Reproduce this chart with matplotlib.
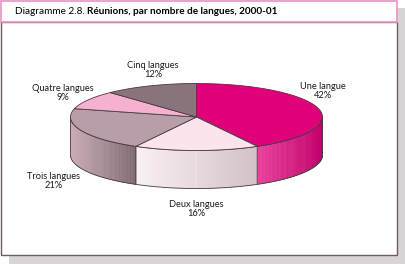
import numpy as np
import matplotlib.pyplot as plt
from matplotlib.patches import Polygon, Rectangle
from matplotlib.colors import to_rgb

# Data
categories = ['Une langue', 'Deux langues', 'Trois langues', 'Quatre langues', 'Cinq langues']
shares = [42, 16, 21, 9, 12]

# Style
top_colors = ['#e0007a', '#fce4ec', '#b89ea8', '#f4b2d0', '#8a747c']
side_light = ['#ea3f9c', '#f9f1f3', '#ccadb8', '#f4b2d0', '#8a747c']
side_dark = ['#c2006b', '#d2c0c7', '#7e6a72', '#f4b2d0', '#8a747c']
edge = '#4a3a42'
# label centres (pixels)
label_xy = [(323, 91), (196, 209), (54, 181), (63, 93), (153, 70)]

plt.rcParams['font.family'] = ['Lato', 'DejaVu Sans']

fig = plt.figure(figsize=(4.06, 2.64), dpi=100)
ax = fig.add_axes([0, 0, 1, 1])
ax.set_xlim(0, 406)
ax.set_ylim(264, 0)
ax.axis('off')

# frame and shadow
ax.add_patch(Rectangle((397, 8), 9, 256, facecolor='#d9d5d6', edgecolor='none'))
ax.add_patch(Rectangle((9, 255), 397, 9, facecolor='#d9d5d6', edgecolor='none'))
ax.add_patch(Rectangle((0.5, 21.5), 396.5, 233.5, facecolor='white', edgecolor='#6e5c66', lw=1))
ax.add_patch(Rectangle((0.5, 0.5), 396.5, 21, facecolor='white', edgecolor='#f090c0', lw=1.2))

t1 = ax.text(15, 12, 'Diagramme 2.8. ', fontsize=7.2, va='center', ha='left')
ax.annotate('Réunions, par nombre de langues, 2000-01', xy=(1, 0.5), xycoords=t1,
            va='center', ha='left', fontsize=7.2, fontweight='bold')

# pie geometry (pixels)
cx, cy, a, b, depth = 196.5, 117, 126, 33.5, 38

def pt(th):
    return cx + a * np.cos(np.radians(th)), cy + b * np.sin(np.radians(th))

fr = np.array(shares) / sum(shares)
bounds = -90 + np.concatenate([[0], np.cumsum(fr) * 360])

# side walls (front half: 0..180 deg, y down)
for i in range(len(shares)):
    t0, t1_ = max(bounds[i], 0), min(bounds[i + 1], 180)
    if t0 >= t1_:
        continue
    th = np.linspace(t0, t1_, 80)
    xs, ys = pt(th)
    xmin, xmax = xs.min(), xs.max()
    lc, dc = np.array(to_rgb(side_light[i])), np.array(to_rgb(side_dark[i]))
    for k in range(len(th) - 1):
        f = ((xs[k] + xs[k + 1]) / 2 - xmin) / (xmax - xmin)
        col = lc + (dc - lc) * f
        quad = [(xs[k], ys[k]), (xs[k + 1], ys[k + 1]),
                (xs[k + 1], ys[k + 1] + depth), (xs[k], ys[k] + depth)]
        ax.add_patch(Polygon(quad, facecolor=col, edgecolor=col, lw=0.4))
    outline = list(zip(xs, ys)) + list(zip(xs[::-1], ys[::-1] + depth))
    ax.add_patch(Polygon(outline, facecolor='none', edgecolor=edge, lw=0.6))

# top surface
for i in range(len(shares)):
    th = np.linspace(bounds[i], bounds[i + 1], 100)
    xs, ys = pt(th)
    poly = [(cx, cy)] + list(zip(xs, ys))
    ax.add_patch(Polygon(poly, facecolor=top_colors[i], edgecolor=edge, lw=0.6))

for name, v, (lx, ly) in zip(categories, shares, label_xy):
    ax.text(lx, ly, f'{name}\n{v}%', ha='center', va='center', fontsize=6.7,
            linespacing=1.0, color='#1a1a1a')

fig.savefig('out.png', dpi=100)
